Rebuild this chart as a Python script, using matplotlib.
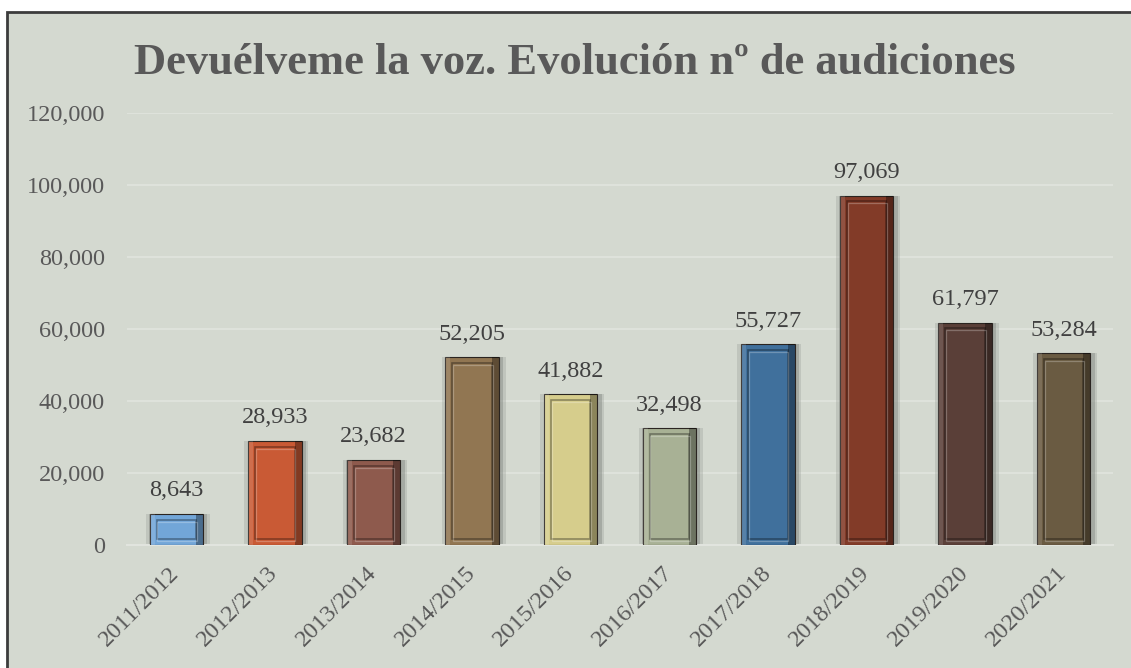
import matplotlib
matplotlib.use("Agg")
import matplotlib.pyplot as plt
from matplotlib.patches import Rectangle
import numpy as np

seasons = ["2011/2012", "2012/2013", "2013/2014", "2014/2015", "2015/2016",
           "2016/2017", "2017/2018", "2018/2019", "2019/2020", "2020/2021"]
auditions = [8643, 28933, 23682, 52205, 41882, 32498, 55727, 97069, 61797, 53284]
bar_colors = ["#72A6D8", "#C95A35", "#8E5A4D", "#917652", "#D6CD8C",
              "#A8B195", "#40709C", "#823B28", "#5A3F38", "#6A5B42"]
y_ticks = [0, 20000, 40000, 60000, 80000, 100000, 120000]
title = "Devuélveme la voz. Evolución nº de audiciones"

BG = "#D4D9D0"
TXT = "#595959"
SERIF = ["Liberation Serif", "DejaVu Serif"]

fig = plt.figure(figsize=(11.31, 6.68), dpi=100)
fig.patch.set_facecolor("white")
frame = Rectangle((7 / 1131, -0.05), 1.2, 1 - 12 / 668 + 0.05,
                  transform=fig.transFigure, facecolor=BG,
                  edgecolor="#3C3C3C", linewidth=2, zorder=-1)
fig.patches.append(frame)

ax = fig.add_axes([127 / 1131, 1 - 545 / 668, (1113 - 127) / 1131, (545 - 113) / 668])
ax.set_zorder(1)
ax.set_facecolor("none")

x = np.arange(len(seasons))
w = 0.54

# soft shadow
ax.bar(x + 0.015, auditions, width=w + 0.11, color="#9DA29A", alpha=0.35, zorder=2, linewidth=0)
ax.bar(x + 0.02, auditions, width=w + 0.05, color="#7E837C", alpha=0.4, zorder=2, linewidth=0)
# main bars
bars = ax.bar(x, auditions, width=w, color=bar_colors, zorder=3,
              edgecolor="#2A2420", linewidth=0.8)
# darker right edge
ax.bar(x + w / 2 - 0.035, auditions, width=0.07, color="black", alpha=0.35, zorder=4, linewidth=0)
# lighter left edge
ax.bar(x - w / 2 + 0.025, auditions, width=0.05, color="white", alpha=0.12, zorder=4, linewidth=0)
# inner bevel panel
inset = 1600
ax.bar(x, [v - 2 * inset for v in auditions], width=w - 0.14, bottom=inset,
       facecolor="none", edgecolor="#000000", alpha=0.35, linewidth=1.2, zorder=5)
ax.bar(x + 0.008, [v - 2 * inset for v in auditions], width=w - 0.14, bottom=inset - 600,
       facecolor="none", edgecolor="#FFFFFF", alpha=0.25, linewidth=0.9, zorder=5)

for xi, v in zip(x, auditions):
    ax.annotate(f"{v:,}", (xi, v), xytext=(0, 9), textcoords="offset points",
                ha="center", va="bottom", fontsize=17.5, color="#404040",
                family=SERIF, zorder=6)

ax.set_xlim(-0.5, len(seasons) - 0.5)
ax.set_ylim(0, 120000)
ax.set_yticks(y_ticks)
ax.set_yticklabels([f"{t:,}" for t in y_ticks], family=SERIF, fontsize=17.5, color=TXT)
ax.set_xticks(x)
ax.set_xticklabels(seasons, rotation=45, ha="right", va="center", rotation_mode="anchor",
                   family=SERIF, fontsize=17.5, color=TXT)
ax.tick_params(axis="both", length=0)
ax.tick_params(axis="y", pad=16)
ax.tick_params(axis="x", pad=18)
ax.grid(axis="y", color="#E1E4DE", linewidth=1.2, zorder=1)
ax.set_axisbelow(True)
for s in ["top", "right", "left"]:
    ax.spines[s].set_visible(False)
ax.spines["bottom"].set_color("#E1E4DE")
ax.spines["bottom"].set_linewidth(1.5)

fig.text(574.5 / 1131, 1 - 63 / 668, title, ha="center", va="center",
         fontsize=32, fontweight="bold", color=TXT, family=SERIF)

fig.savefig("out.png", dpi=100, facecolor=fig.get_facecolor())
